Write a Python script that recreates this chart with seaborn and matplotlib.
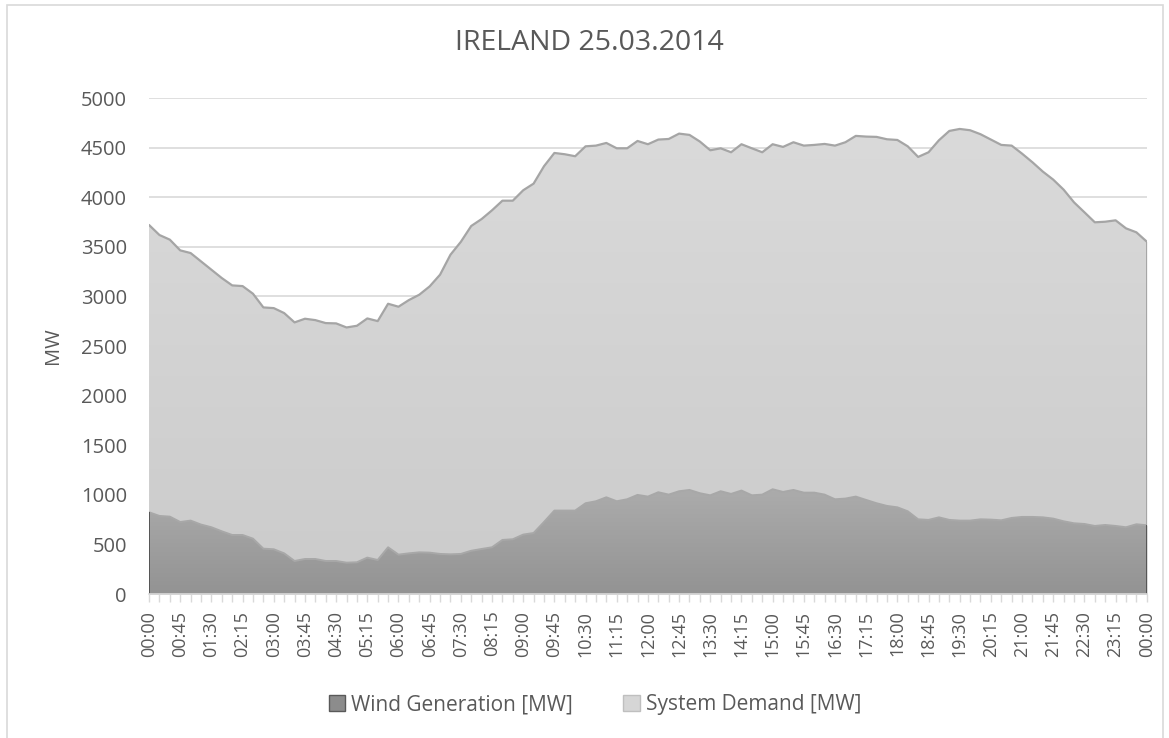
import numpy as np
import pandas as pd
import seaborn as sns
import matplotlib.pyplot as plt
from matplotlib.patches import Patch, Rectangle
from matplotlib.colors import LinearSegmentedColormap

# DONNEES (lues sur le graphique, pas de 15 minutes, 00:00 -> 00:00)
demande_mw = [3720, 3619, 3572, 3464, 3437, 3353, 3269, 3185, 3111, 3104,
              3027, 2889, 2882, 2832, 2738, 2775, 2761, 2731, 2728, 2687,
              2704, 2778, 2751, 2926, 2896, 2963, 3017, 3101, 3219, 3420,
              3550, 3710, 3780, 3868, 3965, 3965, 4070, 4137, 4312, 4446,
              4433, 4413, 4513, 4520, 4547, 4493, 4493, 4567, 4534, 4581,
              4587, 4641, 4628, 4561, 4473, 4493, 4453, 4534, 4493, 4453,
              4534, 4507, 4554, 4520, 4527, 4537, 4520, 4554, 4618, 4611,
              4608, 4584, 4577, 4513, 4406, 4453, 4574, 4668, 4688, 4675,
              4635, 4581, 4527, 4520, 4439, 4352, 4258, 4177, 4076, 3948,
              3848, 3747, 3753, 3767, 3686, 3646, 3552]
eolien_mw = [824, 787, 780, 726, 740, 700, 673, 632, 595, 595,
             558, 457, 451, 410, 333, 353, 353, 333, 333, 316,
             320, 367, 343, 471, 397, 410, 420, 417, 404, 400,
             404, 436, 454, 471, 545, 552, 599, 615, 726, 841,
             841, 841, 915, 935, 975, 935, 955, 999, 982, 1026,
             1002, 1036, 1049, 1016, 995, 1036, 1009, 1043, 995, 1002,
             1056, 1029, 1049, 1022, 1022, 1002, 955, 962, 982, 948,
             915, 888, 874, 834, 753, 747, 773, 747, 740, 740,
             753, 750, 743, 767, 777, 777, 773, 760, 733, 713,
             706, 686, 696, 686, 673, 703, 693]
etiquettes_x = ["00:00", "00:45", "01:30", "02:15", "03:00", "03:45", "04:30",
                "05:15", "06:00", "06:45", "07:30", "08:15", "09:00", "09:45",
                "10:30", "11:15", "12:00", "12:45", "13:30", "14:15", "15:00",
                "15:45", "16:30", "17:15", "18:00", "18:45", "19:30", "20:15",
                "21:00", "21:45", "22:30", "23:15", "00:00"]
graduations_y = [0, 500, 1000, 1500, 2000, 2500, 3000, 3500, 4000, 4500, 5000]

df = pd.DataFrame({"Pas": np.arange(len(demande_mw)),
                   "Demande": demande_mw, "Eolien": eolien_mw})
n = len(df) - 1

sns.set_theme(style="white")
plt.rcParams["font.family"] = ["Open Sans", "DejaVu Sans"]
gris_txt = "#595959"

fig = plt.figure(figsize=(11.69, 7.38), dpi=100)
ax = fig.add_axes([0.1275, 0.1951, 0.981 - 0.1275, 0.8672 - 0.1951])

# cadre exterieur du graphique
fig.patches.append(Rectangle((7 / 1169, -0.05), (1163 - 7) / 1169, 1 - 5 / 738 + 0.05,
                             transform=fig.transFigure, fill=False,
                             edgecolor="#d9d9d9", linewidth=1.2))

# grille horizontale
for g in graduations_y[1:]:
    ax.axhline(g, color="#d9d9d9", linewidth=1.2, zorder=0)


def degrade(poly, haut, bas, ymax, z):
    cmap = LinearSegmentedColormap.from_list("g", [bas, haut])
    im = ax.imshow(np.linspace(0, 1, 256).reshape(-1, 1), aspect="auto", cmap=cmap,
                   extent=[0, n, 0, ymax], origin="lower", zorder=z)
    im.set_clip_path(poly.get_paths()[0], ax.transData)


p1 = ax.fill_between(df["Pas"], 0, df["Demande"], color="#d3d3d3", linewidth=0, zorder=1)
degrade(p1, "#dadada", "#cbcbcb", 4700, 1.1)
p2 = ax.fill_between(df["Pas"], 0, df["Eolien"], color="#a0a0a0", linewidth=0, zorder=2)
degrade(p2, "#acacac", "#939393", 1060, 2.1)

sns.lineplot(data=df, x="Pas", y="Demande", color="#a5a5a5", linewidth=1.6, ax=ax, zorder=3)
sns.lineplot(data=df, x="Pas", y="Eolien", color="#a8a8a8", linewidth=1.4, ax=ax, zorder=3)
ax.vlines(n, df["Eolien"].iloc[-1], df["Demande"].iloc[-1], color="#a5a5a5", linewidth=1.4, zorder=3)
ax.vlines([0, n], 0, [df["Eolien"].iloc[0], df["Eolien"].iloc[-1]], color="#555555", linewidth=1.4, zorder=3)

ax.set_xlim(0, n)
ax.set_ylim(0, 5000)
ax.set_yticks(graduations_y)
ax.set_yticklabels([str(v) for v in graduations_y])
ax.set_xticks(np.arange(0, n + 1, 3))
ax.set_xticklabels(etiquettes_x, rotation=90)
ax.set_xticks(np.arange(0, n + 1), minor=True)
ax.tick_params(axis="y", length=0, pad=16, labelsize=14.5, labelcolor=gris_txt)
ax.tick_params(axis="x", which="both", bottom=True, length=6, width=1, color="#d9d9d9",
               direction="out", labelsize=13, labelcolor=gris_txt, pad=6)

for s in ["top", "right", "left"]:
    ax.spines[s].set_visible(False)
ax.spines["bottom"].set_color("#d9d9d9")
ax.spines["bottom"].set_linewidth(1.2)
ax.spines["bottom"].set_zorder(4)

ax.set_xlabel("")
ax.set_ylabel("MW", fontsize=14.5, color=gris_txt)
ax.yaxis.set_label_coords(-0.086, 0.5)

fig.text(0.504, 0.942, "IRELAND 25.03.2014", ha="center", va="center",
         fontsize=20.5, color=gris_txt)

poignees = [Patch(facecolor="#8c8c8c", edgecolor="#595959", label="Wind Generation [MW]"),
            Patch(facecolor="#d6d6d6", edgecolor="#bfbfbf", label="System Demand [MW]")]
leg = fig.legend(handles=poignees, loc="center", bbox_to_anchor=(0.509, 0.045), ncol=2,
                 frameon=False, fontsize=15, handlelength=0.8, handleheight=0.8,
                 handletextpad=0.3, columnspacing=2.4)
for t in leg.get_texts():
    t.set_color(gris_txt)

fig.savefig("out.png", dpi=100, facecolor="white")
